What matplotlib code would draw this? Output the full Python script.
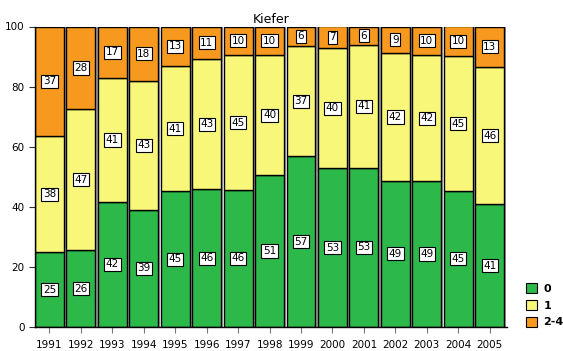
import matplotlib
matplotlib.use("Agg")
import matplotlib.pyplot as plt
from matplotlib.patches import Patch
import numpy as np

years = ["1991", "1992", "1993", "1994", "1995", "1996", "1997", "1998",
         "1999", "2000", "2001", "2002", "2003", "2004", "2005"]
cls0 = [24.9, 25.6, 41.6, 39.0, 45.2, 45.8, 45.6, 50.6, 56.8, 52.8, 53.0, 48.7, 48.6, 45.3, 40.8]
cls1 = [38.5, 46.8, 41.3, 42.9, 41.5, 43.4, 44.8, 39.8, 36.7, 39.9, 40.8, 42.4, 41.8, 44.8, 45.8]
cls24 = [36.6, 27.6, 17.1, 18.1, 13.3, 10.8, 9.6, 9.6, 6.5, 7.3, 6.2, 8.9, 9.6, 9.9, 13.4]
lab0 = [25, 26, 42, 39, 45, 46, 46, 51, 57, 53, 53, 49, 49, 45, 41]
lab1 = [38, 47, 41, 43, 41, 43, 45, 40, 37, 40, 41, 42, 42, 45, 46]
lab24 = [37, 28, 17, 18, 13, 11, 10, 10, 6, 7, 6, 9, 10, 10, 13]
series_names = ["0", "1", "2-4"]
colors = ["#2db84a", "#f9f77a", "#f7991f"]

fig = plt.figure(figsize=(5.63, 3.51), dpi=100)
ax = fig.add_axes([35/563, 1-327/351, 472/563, (327-26.5)/351])

x = np.arange(len(years))
w = 0.92
vals = [np.array(cls0), np.array(cls1), np.array(cls24)]
labs = [lab0, lab1, lab24]
bottom = np.zeros(len(years))
# shadow
ax.bar(x + 0.07, [a+b+c for a, b, c in zip(cls0, cls1, cls24)], width=w, color="#a0a0a0",
       edgecolor="none", zorder=1)
for v, lb, c in zip(vals, labs, colors):
    ax.bar(x, v, width=w, bottom=bottom, color=c, edgecolor="black", linewidth=1.0, zorder=2)
    for xi, yi, hi, t in zip(x, bottom, v, lb):
        ax.text(xi, yi + hi/2, str(t), ha="center", va="center", fontsize=7.5, zorder=4,
                bbox=dict(boxstyle="square,pad=0.15", fc="white", ec="black", lw=0.8))
    bottom = bottom + v

ax.set_xlim(-0.5 + (1-w)/2, len(years) - 0.5 + 0.05)
ax.set_ylim(0, 100)
ax.set_yticks([0, 20, 40, 60, 80, 100])
ax.set_xticks(x)
ax.set_xticklabels(years)
ax.tick_params(axis="both", labelsize=7.5, direction="out", length=4, width=0.8, colors="#333333",
               labelcolor="black")
ax.tick_params(axis="x", pad=5, color="#777777")
for s in ["top", "right"]:
    ax.spines[s].set_visible(False)
ax.spines["left"].set_linewidth(1.0)
ax.spines["bottom"].set_linewidth(1.0)
ax.set_title("Kiefer", fontsize=9, pad=2)

handles = [Patch(facecolor=c, edgecolor="black", linewidth=0.8) for c in colors]
leg = fig.legend(handles, series_names, loc="lower left", bbox_to_anchor=(520/563, 18/351),
                 frameon=False, fontsize=8, handlelength=1.0, handleheight=1.0,
                 handletextpad=0.6, labelspacing=0.55, borderpad=0)
for t in leg.get_texts():
    t.set_fontweight("bold")

fig.savefig("out.png", dpi=100)
